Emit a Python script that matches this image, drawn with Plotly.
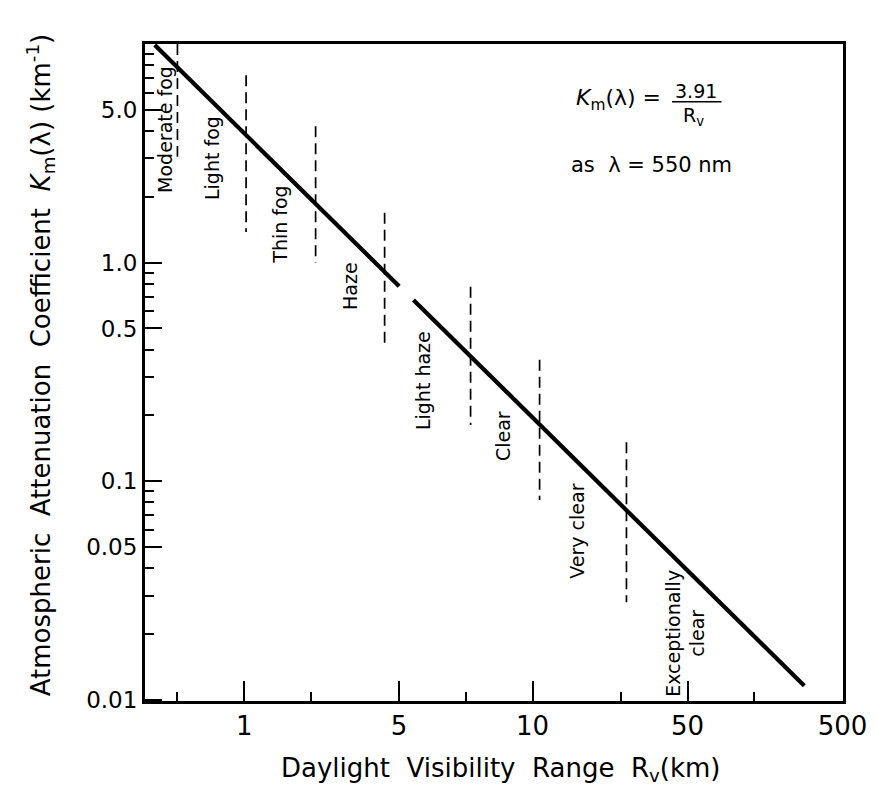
import math
import plotly.graph_objects as go

# ---------------- data ----------------
# solid attenuation line, drawn in two pieces (gap just above 5 km)
seg1_rv = [0.395, 5.0]
seg1_km = [9.9, 0.78]
seg2_rv = [5.8, 336.0]
seg2_km = [0.675, 0.0116]

# dashed boundaries between visibility classes
bound_rv = [0.5, 1.02, 2.1, 4.3, 10.5, 21.5, 53.0]
bound_km_top = [10.0, 7.2, 4.2, 1.69, 0.775, 0.36, 0.151]
bound_km_bot = [3.05, 1.38, 1.0, 0.42, 0.181, 0.082, 0.028]

zone_names = ["Moderate fog", "Light fog", "Thin fog", "Haze", "Light haze",
              "Clear", "Very clear", "Exceptionally<br>clear"]

# axis ticks (as printed on the original)
x_tickvals = [1, 5, 20, 100, 500]
x_ticktext = ["1", "5", "10", "50", "500"]
x_minorvals = [0.5, 2, 10, 50, 200]
y_tickvals = [0.01, 0.05, 0.1, 0.5, 1, 5]
y_ticktext = ["0.01", "0.05", "0.1", "0.5", "1.0", "5.0"]
y_minorvals = [m * d for d in (0.01, 0.1, 1) for m in (2, 3, 4, 6, 7, 8, 9)]

# ---------------- layout helpers (label anchor points) ----------------
zone_label_rv = [0.44, 0.716, 1.45, 3.0, 6.4, 14.7, 31.6, 97.0]
zone_label_km = [4.05, 3.01, 1.49, 0.782, 0.29, 0.161, 0.0592, 0.0202]

FONT = "DejaVu Sans"

fig = go.Figure()

# dashed class boundaries
dx, dy = [], []
for rv, kt, kb in zip(bound_rv, bound_km_top, bound_km_bot):
    dx += [rv, rv, None]
    dy += [kt, kb, None]
fig.add_trace(go.Scatter(x=dx, y=dy, mode="lines",
                         line=dict(color="black", width=1.7, dash="11px,6px"),
                         hoverinfo="skip", showlegend=False))

for xs, ys in ((seg1_rv, seg1_km), (seg2_rv, seg2_km)):
    fig.add_trace(go.Scatter(x=xs, y=ys, mode="lines",
                             line=dict(color="black", width=4.2),
                             hoverinfo="skip", showlegend=False))

annotations = []
for name, rv, km in zip(zone_names, zone_label_rv, zone_label_km):
    annotations.append(dict(x=math.log10(rv), y=math.log10(km), xref="x", yref="y",
                            text=name, textangle=-90, showarrow=False,
                            font=dict(family=FONT, size=19, color="black"),
                            align="center"))

# formula box
annotations += [
    dict(x=0.742, y=0.915, xref="paper", yref="paper", xanchor="right", yanchor="middle",
         text="<i>K</i><sub>m</sub>(λ) =", showarrow=False,
         font=dict(family=FONT, size=22, color="black")),
    dict(x=0.789, y=0.929, xref="paper", yref="paper", xanchor="center", yanchor="middle",
         text="3.91", showarrow=False, font=dict(family=FONT, size=19, color="black")),
    dict(x=0.786, y=0.890, xref="paper", yref="paper", xanchor="center", yanchor="middle",
         text="R<sub>v</sub>", showarrow=False, font=dict(family=FONT, size=19, color="black")),
    dict(x=0.726, y=0.816, xref="paper", yref="paper", xanchor="center", yanchor="middle",
         text="as  λ = 550 nm", showarrow=False, font=dict(family=FONT, size=21, color="black")),
]

# axis titles
annotations += [
    dict(x=0.5086, y=-0.104, xref="paper", yref="paper", xanchor="center", yanchor="middle",
         text="Daylight  Visibility  Range  R<sub>v</sub>(km)", showarrow=False,
         font=dict(family=FONT, size=26, color="black")),
    dict(x=-0.1504, y=0.511, xref="paper", yref="paper", xanchor="center", yanchor="middle",
         text="Atmospheric  Attenuation  Coefficient  <i>K</i><sub>m</sub>(λ) (km<sup>-1</sup>)",
         textangle=-90, showarrow=False,
         font=dict(family=FONT, size=26, color="black")),
]

shapes = [dict(type="line", xref="paper", yref="paper", x0=0.755, x1=0.826, y0=0.912, y1=0.912,
               line=dict(color="black", width=1.5))]

# the page adds an 8px body margin, so the figure is 8px smaller and offset
fig.update_layout(
    width=870, height=782,
    margin=dict(l=137, r=35, t=36, b=89, autoexpand=False),
    paper_bgcolor="white", plot_bgcolor="white",
    font=dict(family=FONT, color="black"),
    annotations=annotations, shapes=shapes,
    xaxis=dict(
        type="log", range=[math.log10(0.357), math.log10(500) + 0.002],
        tickmode="array", tickvals=x_tickvals, ticktext=x_ticktext,
        ticks="inside", ticklen=20, tickwidth=2, tickcolor="black",
        showline=True, linewidth=3, linecolor="black", mirror=True,
        showgrid=False, zeroline=False, automargin=False,
        tickfont=dict(family=FONT, size=26, color="black"),
        minor=dict(tickvals=x_minorvals, ticks="inside", ticklen=9, tickwidth=2,
                   tickcolor="black", showgrid=False),
    ),
    yaxis=dict(
        type="log", range=[-2.005, 1.0],
        tickmode="array", tickvals=y_tickvals, ticktext=y_ticktext,
        ticks="inside", ticklen=17, tickwidth=2, tickcolor="black",
        showline=True, linewidth=3, linecolor="black", mirror=True,
        showgrid=False, zeroline=False, automargin=False,
        tickfont=dict(family=FONT, size=23, color="black"),
        minor=dict(tickvals=y_minorvals, ticks="inside", ticklen=9, tickwidth=2,
                   tickcolor="black", showgrid=False),
    ),
)

fig.write_html("out.html")
